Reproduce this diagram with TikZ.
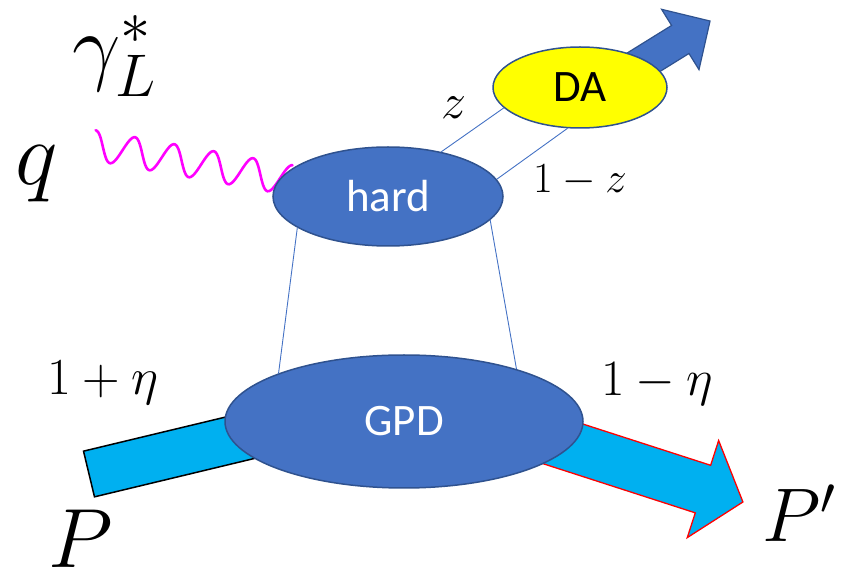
\RequirePackage{fix-cm}
\documentclass[tikz,border=0pt]{standalone}
\usepackage{fontspec}
\setsansfont{Carlito}
\usepackage{tikz}
\usetikzlibrary{shapes.geometric, backgrounds}
\definecolor{blobfill}{RGB}{68,114,196}
\definecolor{blobedge}{RGB}{47,82,143}
\definecolor{protoncol}{RGB}{0,176,240}
\definecolor{photoncol}{RGB}{255,0,255}
\definecolor{dayellow}{RGB}{255,255,0}
\tikzset{
  blob/.style={ellipse,draw=blobedge,line width=1.5pt,fill=blobfill,inner sep=0pt,
    text=white,font=\sffamily\fontsize{45}{47}\selectfont},
  leg/.style={draw=blobfill,line width=0.9pt},
  photon/.style={draw=photoncol,line width=2.6pt,line cap=round},
  pinbar/.style={fill=protoncol,draw=black,line width=1.5pt,line join=miter},
  poutarr/.style={fill=protoncol,draw=red,line width=1.3pt,line join=miter},
  daarr/.style={fill=blobfill,draw=blobedge,line width=1.2pt,line join=miter},
  lbl/.style={anchor=base west,inner sep=0pt}
}
% fat arrow: style, tail, angle, length, shaft half width, head half width, head length
\newcommand{\fatarrow}[7]{%
  \begin{scope}[shift={#2},rotate=#3]
    \draw[#1] (0,-#5) -- ({#4-#7},-#5) -- ({#4-#7},-#6) -- (#4,0)
      -- ({#4-#7},#6) -- ({#4-#7},#5) -- (0,#5) -- cycle;
  \end{scope}}

\begin{document}
\begin{tikzpicture}[x=1pt,y=1pt]
  \useasboundingbox (0,0) rectangle (852,576);

  %% tails of the big arrows and start of the photon
  \coordinate (datail) at (603.8,489.1);
  \coordinate (pouttail) at (486,157);
  \coordinate (pintail) at (89,102);
  \coordinate (qin) at (93,431);

  %% arrows (under the blobs)
  \fatarrow{daarr}{(datail)}{31.8}{125}{16.5}{35.5}{35}
  \fatarrow{poutarr}{(pouttail)}{-17.9}{270}{25}{51}{42}
  \begin{scope}[shift={(pintail)},rotate=13.5]
    \draw[pinbar] (0,-23.5) rectangle (260,23.5);
  \end{scope}

  %% photon
  \begin{scope}[shift={(qin)},rotate=-10.07]
    \draw[photon] plot[domain=0:200,samples=150,smooth] (\x,{15*cos(9*\x)});
  \end{scope}

  %% blobs
  \node[blob,minimum width=230,minimum height=99] (hard) at (388,379.5) {hard};
  \node[blob,minimum width=358,minimum height=133] (GPD) at (404,154.5) {GPD};
  \node[blob,fill=dayellow,text=black,minimum width=174,minimum height=81] (DA)
    at (580,488.5) {DA};

  %% partons
  \draw[leg] (hard.199) -- (GPD.159);
  \draw[leg] (hard.347) -- (GPD.25);
  \draw[leg] (hard.40) -- (DA.195);
  \draw[leg] (hard.9) -- (DA.253);

  %% labels
  \node[lbl,font=\fontsize{86}{88}\selectfont] (gam) at (72,501) {$\gamma_L^*$};
  \node[lbl,font=\fontsize{90}{92}\selectfont] (qlbl) at (15,391) {$q$};
  \node[lbl,font=\fontsize{50}{52}\selectfont] (zlbl) at (441,457) {$z$};
  \node[lbl,font=\fontsize{43}{45}\selectfont] (zbar) at (533,383) {$1-z$};
  \node[lbl,font=\fontsize{52}{54}\selectfont] (etain) at (47,181) {$1+\eta$};
  \node[lbl,font=\fontsize{51}{53}\selectfont] (etaout) at (601,180) {$1-\eta$};
  \node[lbl,font=\fontsize{84}{86}\selectfont] (Plbl) at (48,8) {$P$};
  \node[lbl,font=\fontsize{76}{78}\selectfont] (Pplbl) at (762,34) {$P'$};
\end{tikzpicture}
\end{document}
